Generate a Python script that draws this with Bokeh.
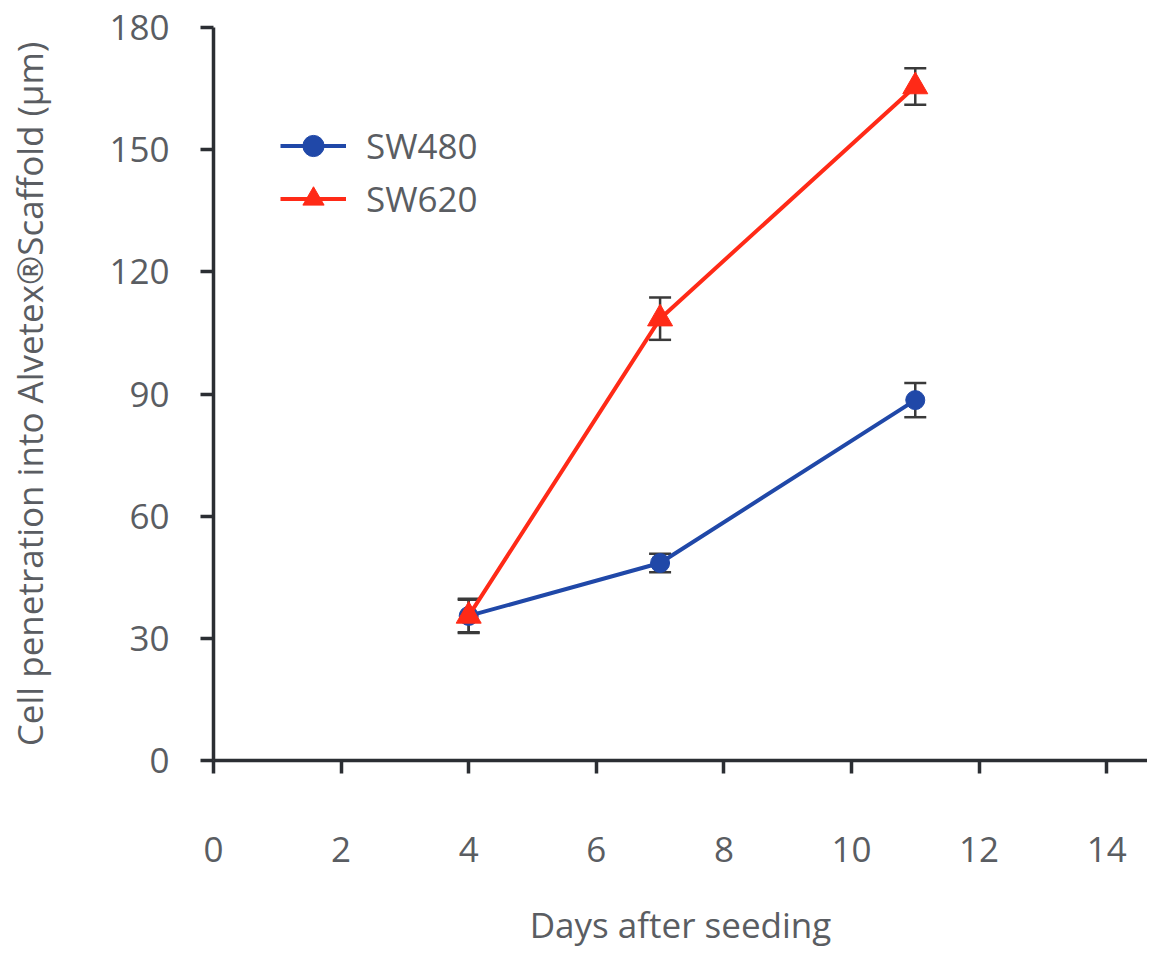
from bokeh.plotting import figure
from bokeh.models import Range1d, FixedTicker, ColumnDataSource, Whisker, TeeHead, Legend, LegendItem
from bokeh.embed import file_html
from bokeh.resources import INLINE

days = [4, 7, 11]
sw480 = [35.5, 48.5, 88.5]
sw480_err = [4.0, 2.3, 4.2]
sw620 = [35.5, 108.5, 165.5]
sw620_err = [4.2, 5.2, 4.5]
x_ticks = [0, 2, 4, 6, 8, 10, 12, 14]
y_ticks = [0, 30, 60, 90, 120, 150, 180]

BLUE = "#2048a8"
RED = "#ff2a17"
AX = "#2b2e33"
TXT = "#5a5d62"
FONT = "Open Sans"

p = figure(width=1147, height=951, output_backend="svg", toolbar_location=None,
           x_range=Range1d(0, 14.64), y_range=Range1d(0, 180),
           min_border_left=213, min_border_top=27, min_border_right=0, min_border_bottom=191)
p.outline_line_color = None
p.xgrid.visible = False
p.ygrid.visible = False

for ax in (p.xaxis[0], p.yaxis[0]):
    ax.axis_line_color = AX
    ax.axis_line_width = 3.5
    ax.major_tick_line_color = AX
    ax.major_tick_line_width = 3.5
    ax.major_tick_out = 13
    ax.major_tick_in = 0
    ax.minor_tick_line_color = None
    ax.major_label_text_font = FONT
    ax.major_label_text_font_size = "35px"
    ax.major_label_text_color = TXT
    ax.axis_label_text_font = FONT
    ax.axis_label_text_font_size = "35px"
    ax.axis_label_text_font_style = "normal"
    ax.axis_label_text_color = TXT

p.xaxis.ticker = FixedTicker(ticks=x_ticks)
p.yaxis.ticker = FixedTicker(ticks=y_ticks)
p.xaxis.major_label_standoff = 63
p.yaxis.major_label_standoff = 31
p.xaxis.axis_label = "Days after seeding"
p.yaxis.axis_label = "Cell penetration into Alvetex®Scaffold (µm)"
p.xaxis.axis_label_standoff = 36
p.yaxis.axis_label_standoff = 53

s1 = ColumnDataSource(dict(x=days, y=sw480, lo=[v - e for v, e in zip(sw480, sw480_err)],
                           hi=[v + e for v, e in zip(sw480, sw480_err)]))
s2 = ColumnDataSource(dict(x=days, y=sw620, lo=[v - e for v, e in zip(sw620, sw620_err)],
                           hi=[v + e for v, e in zip(sw620, sw620_err)]))

l1 = p.line("x", "y", source=s1, line_color=BLUE, line_width=4)
m1 = p.scatter("x", "y", source=s1, marker="circle", size=19, fill_color=BLUE, line_color=BLUE)
l2 = p.line("x", "y", source=s2, line_color=RED, line_width=4)
m2 = p.scatter("x", "y", source=s2, marker="triangle", size=25, fill_color=RED, line_color=RED)

for s in (s1, s2):
    w = Whisker(source=s, base="x", lower="lo", upper="hi", line_color="#3a3a3a", line_width=2.5,
                upper_head=TeeHead(size=22, line_color="#3a3a3a", line_width=2.5),
                lower_head=TeeHead(size=22, line_color="#3a3a3a", line_width=2.5))
    p.add_layout(w)

legend = Legend(items=[LegendItem(label="SW480", renderers=[l1, m1]),
                       LegendItem(label="SW620", renderers=[l2, m2])],
                location=(67, 535), orientation="vertical")
legend.border_line_color = None
legend.background_fill_alpha = 0
legend.padding = 0
legend.margin = 0
legend.spacing = 0
legend.glyph_width = 66
legend.glyph_height = 53
legend.label_height = 53
legend.label_standoff = 20
legend.label_text_font = FONT
legend.label_text_font_size = "35px"
legend.label_text_color = TXT
p.add_layout(legend)

open("out.html", "w").write(file_html(p, INLINE))
